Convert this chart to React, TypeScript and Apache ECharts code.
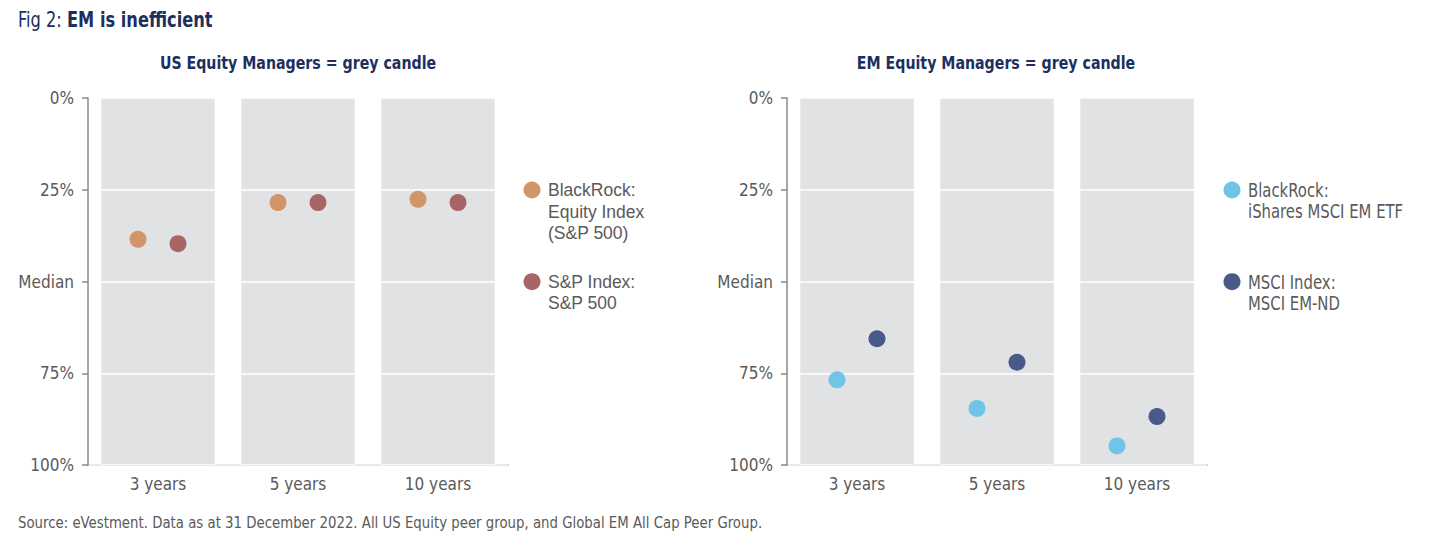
import React, { useEffect, useRef } from "react";
import * as echarts from "echarts";

const categories = ["3 years", "5 years", "10 years"];
const yTicks = [0, 25, 50, 75, 100];
const bandValues = [100, 100, 100];

const usBlackRock = [38.5, 28.5, 27.6];
const usSP500 = [39.7, 28.5, 28.5];
const emIShares = [76.8, 84.6, 94.8];
const emMSCI = [65.6, 72.0, 86.8];

const usTitle = "US Equity Managers = grey candle";
const emTitle = "EM Equity Managers = grey candle";
const usLegend = ["BlackRock:\nEquity Index\n(S&P 500)", "S&P Index:\nS&P 500"];
const emLegend = ["BlackRock:\niShares MSCI EM ETF", "MSCI Index:\nMSCI EM-ND"];
const seriesNames = ["BlackRock: Equity Index (S&P 500)", "S&P Index: S&P 500", "BlackRock: iShares MSCI EM ETF", "MSCI Index: MSCI EM-ND"];
const source = "Source: eVestment. Data as at 31 December 2022. All US Equity peer group, and Global EM All Cap Peer Group.";

const COND = "'DejaVu Sans Condensed', 'Liberation Sans Narrow', sans-serif";
const SANS = "'Liberation Sans', Arial, Helvetica, sans-serif";
const NAVY = "#1c2f5e";
const GREY_TEXT = "#5a5a5a";
const AXIS = "#8a8a8a";
const BAND = "#e1e2e4";
const C_ORANGE = "#d1956a";
const C_RED = "#a86565";
const C_LIGHT = "#6fc5e8";
const C_NAVY = "#475a88";

function xAxis(gridIndex: number) {
  return {
    type: "category",
    gridIndex,
    data: categories,
    position: "bottom",
    axisLine: { onZero: false, lineStyle: { color: AXIS, width: 1.5 } },
    axisTick: { length: 10, lineStyle: { color: AXIS, width: 1.5 } },
    axisLabel: { color: GREY_TEXT, fontFamily: COND, fontSize: 17, margin: 10 },
    splitLine: { show: false },
  };
}

function yAxis(gridIndex: number) {
  return {
    type: "value",
    gridIndex,
    min: 0,
    max: 100,
    interval: 25,
    inverse: true,
    z: 3,
    axisLine: { show: true, lineStyle: { color: AXIS, width: 1.5 } },
    axisTick: { show: true, length: 6, lineStyle: { color: AXIS, width: 1.5 } },
    axisLabel: {
      color: GREY_TEXT,
      fontFamily: COND,
      fontSize: 17,
      margin: 14,
      formatter: (v: number) => (yTicks.includes(v) ? (v === 50 ? "Median" : v + "%") : ""),
    },
    splitLine: { show: true, lineStyle: { color: "#ffffff", width: 1.5 } },
  };
}

function band(idx: number) {
  return {
    type: "bar",
    xAxisIndex: idx,
    yAxisIndex: idx,
    data: bandValues,
    barWidth: "81%",
    itemStyle: { color: BAND },
    silent: true,
    z: 1,
  };
}

function dots(idx: number, name: string, data: number[], color: string, dx: number) {
  return {
    type: "scatter",
    name,
    xAxisIndex: idx,
    yAxisIndex: idx,
    data,
    symbol: "circle",
    symbolSize: 17,
    symbolOffset: [dx, 0],
    itemStyle: { color, opacity: 1 },
    z: 10,
  };
}

function legendItem(x: number, y: number, color: string, text: string, font: string, size: number, sx: number) {
  return [
    { type: "circle", shape: { cx: x, cy: y, r: 8.5 }, style: { fill: color } },
    {
      type: "text",
      x: x + 16,
      y: y - 10.75,
      scaleX: sx,
      style: {
        text,
        fill: GREY_TEXT,
        font: `${size}px ${font}`,
        lineHeight: 21.5,
        verticalAlign: "top",
        align: "left",
      },
    },
  ];
}

export default function App() {
  const ref = useRef<HTMLDivElement>(null);
  useEffect(() => {
    document.body.style.margin = "0";
    if (!ref.current) return;
    const chart = echarts.init(ref.current, null, { renderer: "svg" });
    chart.setOption({
      animation: false,
      backgroundColor: "#ffffff",
      grid: [
        { left: 88, top: 98, width: 420, height: 367 },
        { left: 787, top: 98, width: 420, height: 367 },
      ],
      xAxis: [xAxis(0), xAxis(1)],
      yAxis: [yAxis(0), yAxis(1)],
      series: [
        band(0),
        band(1),
        dots(0, seriesNames[0], usBlackRock, C_ORANGE, -20),
        dots(0, seriesNames[1], usSP500, C_RED, 20),
        dots(1, seriesNames[2], emIShares, C_LIGHT, -20),
        dots(1, seriesNames[3], emMSCI, C_NAVY, 20),
      ],
      graphic: [
        {
          type: "text",
          x: 18,
          y: 20,
          scaleX: 0.86,
          style: {
            text: "{a|Fig 2: }{b|EM is inefficient}",
            verticalAlign: "middle",
            rich: {
              a: { fontFamily: COND, fontSize: 21, fill: NAVY, fontWeight: "normal" },
              b: { fontFamily: COND, fontSize: 21, fill: NAVY, fontWeight: "bold" },
            },
          },
        },
        {
          type: "text",
          x: 298,
          y: 63,
          scaleX: 0.876,
          style: { text: usTitle, fill: NAVY, font: `bold 18px ${COND}`, align: "center", verticalAlign: "middle" },
        },
        {
          type: "text",
          x: 996,
          y: 63,
          scaleX: 0.876,
          style: { text: emTitle, fill: NAVY, font: `bold 18px ${COND}`, align: "center", verticalAlign: "middle" },
        },
        ...legendItem(532, 190, C_ORANGE, usLegend[0], SANS, 17.5, 1),
        ...legendItem(532, 281.7, C_RED, usLegend[1], SANS, 17.5, 1),
        ...legendItem(1232, 190, C_LIGHT, emLegend[0], COND, 19, 0.87),
        ...legendItem(1232, 281.7, C_NAVY, emLegend[1], COND, 19, 0.87),
        {
          type: "text",
          x: 18,
          y: 523,
          scaleX: 0.925,
          style: { text: source, fill: GREY_TEXT, font: `16px ${COND}`, verticalAlign: "middle", align: "left" },
        },
      ],
    });
    return () => chart.dispose();
  }, []);
  return <div ref={ref} style={{ width: 1432, height: 558 }} />;
}
